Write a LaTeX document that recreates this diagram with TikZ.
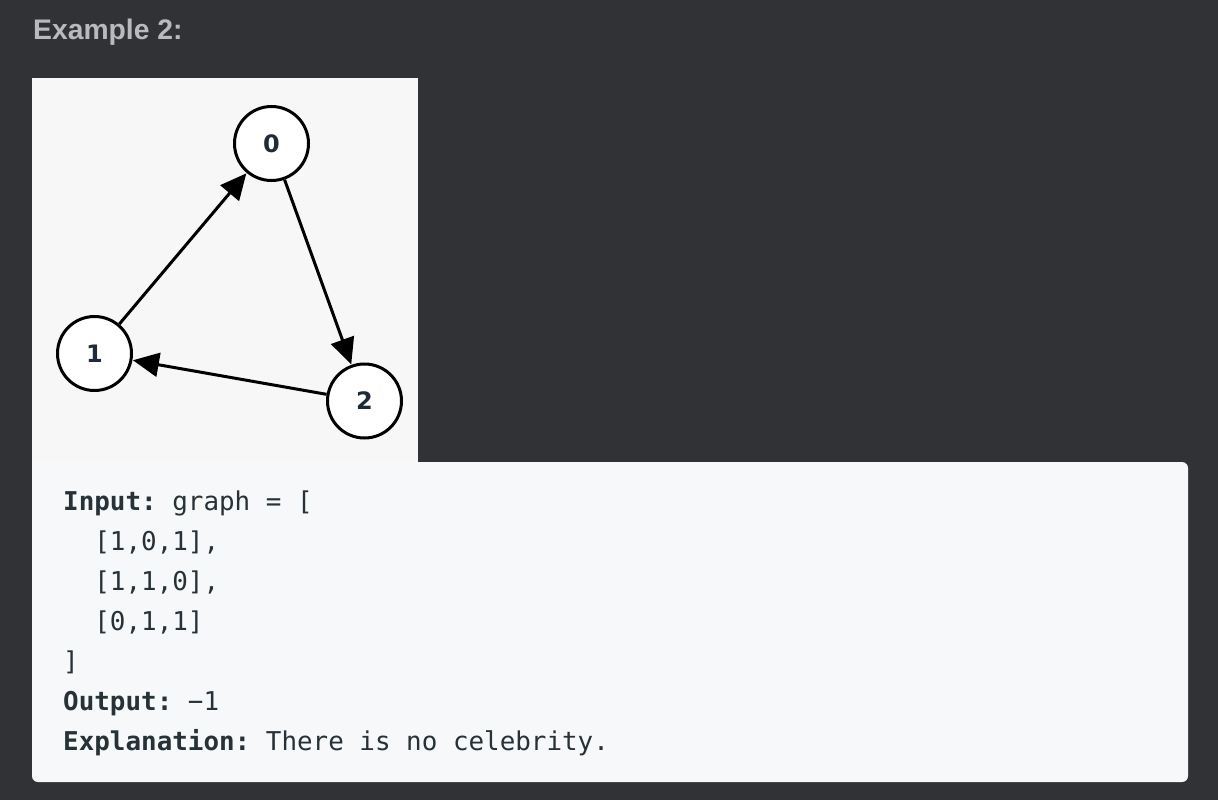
\documentclass[tikz,border=0pt]{standalone}
\usepackage{fontspec}
\setmainfont{Liberation Sans}
\setmonofont{DejaVu Sans Mono}
\newfontfamily\vertfont{DejaVu Sans}
\usetikzlibrary{arrows.meta}
\definecolor{bgdark}{HTML}{303236}
\definecolor{headgray}{HTML}{B9BABC}
\definecolor{imgbg}{HTML}{F7F7F7}
\definecolor{codebg}{HTML}{F7F8FA}
\definecolor{codetxt}{HTML}{263238}
\definecolor{nodetxt}{HTML}{1F2A3A}
\begin{document}
\begin{tikzpicture}[x=1pt,y=-1pt,
  vert/.style={circle,draw=black,fill=white,line width=3pt,minimum size=74pt,inner sep=0pt,
    font=\vertfont\fontsize{24}{24}\selectfont\bfseries,text=nodetxt},
  edge/.style={line width=3pt,-{Triangle[length=26pt,width=24pt]},shorten >=0.5pt},
  code/.style={anchor=base west,inner sep=0pt,font=\fontsize{25.9}{25.9}\ttfamily,text=codetxt}]
\useasboundingbox (0,0) rectangle (1218,800);
\fill[bgdark] (0,0) rectangle (1218,800);
\node[anchor=base west,inner sep=0pt,font=\fontsize{28.3}{28.3}\selectfont\bfseries,text=headgray] (head) at (33,40) {Example 2:};
\fill[imgbg] (32,78) rectangle (418,462);
\fill[codebg,rounded corners=6pt] (32,462) rectangle (1188,782);
\fill[codebg] (32,462) rectangle (40,470);
\node[vert] (n0) at (271.5,143.5) {0};
\node[vert] (n1) at (94.5,353.5) {1};
\node[vert] (n2) at (364.5,401) {2};
\draw[edge] (n1) -- (n0);
\draw[edge] (n0) -- (n2);
\draw[edge] (n2) -- (n1);
\node[code] (l1) at (63,510) {\textbf{Input:} graph = [};
\node[code] (l2) at (63,550) {\ \ [1,0,1],};
\node[code] (l3) at (63,590) {\ \ [1,1,0],};
\node[code] (l4) at (63,630) {\ \ [0,1,1]};
\node[code] (l5) at (63,670) {]};
\node[code] (l6) at (63,710) {\textbf{Output:} −1};
\node[code] (l7) at (63,750) {\textbf{Explanation:} There is no celebrity.};
\end{tikzpicture}
\end{document}
